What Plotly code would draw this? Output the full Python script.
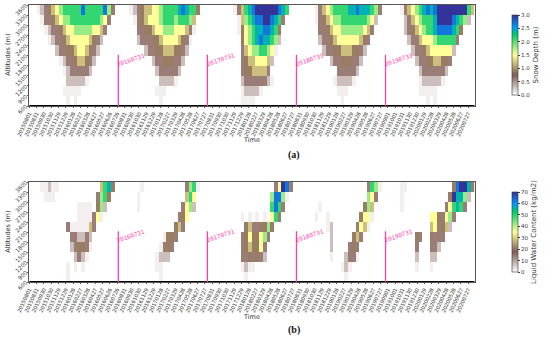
import plotly.graph_objects as go

# ---------------- data ----------------
# altitude bands (centres, m), listed top -> bottom
ALT_BANDS = [3450, 3150, 2850, 2550, 2250, 1950, 1650, 1350, 1050, 750]
ALT_TICKS = [600, 900, 1200, 1500, 1800, 2100, 2400, 2700, 3000, 3300, 3600]

# each string: 24 half-month columns of one hydrological year (Aug -> Jul)
# levels: 0 none, '.' trace, 1..9, a = max of colour scale (tenths of the scale)
SNOW_2015_16 = ["00.1 2345 6777 7797 7777 9630", "000. 2234 5667 7777 7776 5200",
                "0000 .122 3455 6666 6554 2000", "0000 0.12 2345 5555 4321 0000",
                "0000 0001 2233 4554 3210 0000", "0000 0000 .122 3443 2100 0000",
                "0000 0000 0.12 2222 1000 0000", "0000 0000 0011 111. 0000 0000",
                "0000 0000 0... ..00 0000 0000", "0000 0000 00.0 .000 0000 0000"]
SNOW_2016_17 = ["000. 1234 4556 7777 8987 7300", "0000 .234 5556 7776 7776 4000",
                "0000 0223 3455 6665 5542 .000", "0000 0122 2334 5555 432. 0000",
                "0000 0001 2233 4443 3210 0000", "0000 0000 0122 3332 2100 0000",
                "0000 0000 0012 2222 1000 0000", "0000 0000 0001 111. 0000 0000",
                "0000 0000 00.. .000 0000 0000", "0000 0000 000. 0000 0000 0000"]
SNOW_2017_18 = ["0000 000. 2478 9aaa aaa9 8700", "0000 0000 .467 899a a987 2000",
                "0000 0000 .356 7889 9873 0000", "0000 0000 0356 7898 8761 0000",
                "0000 0000 0245 6677 65.0 0000", "0000 0000 0234 4555 4100 0000",
                "0000 0000 0233 4444 2000 0000", "0000 0000 0122 2222 1.00 0000",
                "0000 0000 0.11 11.0 0000 0000", "0000 0000 0... .000 0000 0000"]
SNOW_2018_19 = ["0000 0.24 5677 7788 9888 7620", "0000 0.23 4566 7777 7776 5100",
                "0000 0022 3455 6666 6654 2000", "0000 0012 2345 5555 5432 0000",
                "0000 0001 2233 4443 3210 0000", "0000 0000 0122 3332 2100 0000",
                "0000 0000 0002 2222 1000 0000", "0000 0000 00.1 111. 0000 0000",
                "0000 0000 000. ..00 0000 0000", "0000 0000 0000 .000 0000 0000"]
SNOW_2019_20 = ["0000 .245 6789 89aa aaaa aa74", "0000 0124 5677 78aa aa98 7610",
                "0000 0123 4567 7899 9987 3000", "0000 0012 2455 5677 7772 0000",
                "0000 0001 2234 5555 5510 0000", "0000 0000 1223 3443 3200 0000",
                "0000 0000 0122 2222 1000 0000", "0000 0000 0.11 111. 0000 0000",
                "0000 0000 0... ..00 0000 0000", "0000 0000 000. 0.00 0000 0000"]

LWC_2015_16 = ["000. .1.. 0000 0000 0004 7830", "0000 ...0 0000 0000 0026 7300",
               "0000 0000 0000 0... .036 1000", "0000 0000 0000 0... .25. 0000",
               "0000 0000 002. .... 4200 0000", "0000 0000 0002 2112 1000 0000",
               "0000 0000 0001 2332 .000 0000", "0000 0000 0000 121. 0000 0000",
               "0000 0000 00.0 .0.0 0000 0000", "0000 0000 00.0 0000 0000 0000"]
LWC_2016_17 = ["0000 00.0 0000 0000 0026 7.00", "0000 0.00 0000 0000 0047 5000",
               "0000 0.00 0000 0000 0256 1000", "0000 0000 0000 0000 2350 0000",
               "0000 0000 0000 0003 4200 0000", "0000 0000 0000 .332 0000 0000",
               "0000 0000 000. 2320 0000 0000", "0000 0000 00.1 1100 0000 0000",
               "0000 0000 00.. 0000 0000 0000", "0000 0000 000. 0000 0000 0000"]
LWC_2017_18 = ["0000 0000 0000 0000 0025 a920", "0000 0000 0000 0000 0699 6.00",
               "0000 0000 0000 0000 0797 2000", "0000 0000 0.0. 0.0. 0572 0000",
               "0000 0000 0034 2233 6300 0000", "0000 0000 0235 3356 2000 0000",
               "0000 0000 0234 3352 0000 0000", "0000 0000 0223 2321 0000 0000",
               "0000 0000 0.1. .000 0000 0000", "0000 0000 00.0 0000 0000 0000"]
LWC_2018_19 = ["0000 0000 0000 0000 0002 76.0", "0000 0000 0000 0000 0006 5200",
               "0000 00.0 0000 0000 0036 4000", "0000 0.00 .000 0000 0355 .000",
               "0000 0000 .100 0000 254. 0000", "0000 0000 0100 0003 4200 0000",
               "0000 0000 0100 0023 2000 0000", "0000 0000 0.00 0122 .000 0000",
               "0000 0000 0000 .1.0 0000 0000", "0000 0000 0000 0.00 0000 0000"]
LWC_2019_20 = ["0000 ..00 0000 0000 0039 aa83", "0000 .000 0000 0000 03a8 8610",
               "0000 .000 0000 0000 2578 7200", "0000 0000 0000 5532 5620 0000",
               "0000 0000 0000 4523 4100 0000", "0000 0000 3200 3222 0000 0000",
               "0000 0000 2000 2210 0000 0000", "0000 0000 1000 1100 0000 0000",
               "0000 0000 .000 .000 0000 0000", "0000 0000 0000 0000 0000 0000"]

SNOW_MAX = 3.0
LWC_MAX = 70
YEAR_SPLITS = ["20160731", "20170731", "20180731", "20190731"]

TICK_LABELS = [
    "20150801", "20150831", "20150930", "20151030", "20151129", "20151229", "20160128",
    "20160227", "20160328", "20160427", "20160527", "20160626", "20160726",
    "20160831", "20160930", "20161030", "20161129", "20161229", "20170128", "20170227",
    "20170329", "20170428", "20170528", "20170627", "20170727",
    "20170831", "20170930", "20171030", "20171129", "20171229", "20180128", "20180227",
    "20180329", "20180428", "20180528", "20180627", "20180727",
    "20180831", "20180930", "20181030", "20181129", "20181229", "20190128", "20190227",
    "20190329", "20190428", "20190528", "20190627", "20190727",
    "20190901", "20191001", "20191031", "20191130", "20191230", "20200129", "20200228",
    "20200329", "20200428", "20200528", "20200627", "20200727"]

# ---------------- helpers ----------------
LEVEL = {'0': 0, '.': 0.25, 'a': 10}
LEVEL.update({str(i): i for i in range(1, 10)})


def decode(years, vmax):
    z = []
    for r in range(len(ALT_BANDS)):
        s = "".join(y[r].replace(" ", "") for y in years)
        z.append([LEVEL[c] / 10 * vmax for c in s])
    return z[::-1]  # bottom -> top


YEAR_LEN = 365.2
NCOL = 24
XMAX = YEAR_LEN * 5
snow_z = decode([SNOW_2015_16, SNOW_2016_17, SNOW_2017_18, SNOW_2018_19, SNOW_2019_20], SNOW_MAX)
lwc_z = decode([LWC_2015_16, LWC_2016_17, LWC_2017_18, LWC_2018_19, LWC_2019_20], LWC_MAX)
y_bottom_up = ALT_BANDS[::-1]

TERRAIN_R = [[0.0, "rgb(255,255,255)"], [0.25, "rgb(128,92,84)"], [0.5, "rgb(255,255,153)"],
             [0.75, "rgb(0,204,102)"], [0.85, "rgb(0,153,255)"], [1.0, "rgb(51,51,153)"]]

W, H = 550, 338
FONT = "DejaVu Sans"
PINK = "#ff3fa6"


def px_x(p):
    return p / W


def px_y(p):
    return 1 - p / H


fig = go.Figure()
dx = YEAR_LEN / NCOL

fig.add_trace(go.Heatmap(
    z=snow_z, x0=dx / 2, dx=dx, y=y_bottom_up, zmin=0, zmax=SNOW_MAX,
    colorscale=TERRAIN_R, zsmooth=False, xaxis="x", yaxis="y", hoverinfo="skip",
    colorbar=dict(x=px_x(515), xanchor="left", y=px_y(55), yanchor="middle",
                  len=100 / H, thickness=6, outlinewidth=0.6, outlinecolor="#333",
                  tickvals=[0, 0.5, 1, 1.5, 2, 2.5, 3], tickformat=".1f",
                  ticks="outside", ticklen=2, tickwidth=0.6, tickcolor="#444",
                  tickfont=dict(size=5.5, family=FONT, color="#333"),
                  title=dict(text="Snow Depth (m)", side="right",
                             font=dict(size=7, family=FONT, color="#333")))))

fig.add_trace(go.Heatmap(
    z=lwc_z, x0=dx / 2, dx=dx, y=y_bottom_up, zmin=0, zmax=LWC_MAX,
    colorscale=TERRAIN_R, zsmooth=False, xaxis="x2", yaxis="y2", hoverinfo="skip",
    colorbar=dict(x=px_x(515), xanchor="left", y=px_y(232), yanchor="middle",
                  len=100 / H, thickness=6, outlinewidth=0.6, outlinecolor="#333",
                  tickvals=[0, 10, 20, 30, 40, 50, 60, 70],
                  ticks="outside", ticklen=2, tickwidth=0.6, tickcolor="#444",
                  tickfont=dict(size=5.5, family=FONT, color="#333"),
                  title=dict(text="Liquid Water Content (kg/m2)", side="right",
                             font=dict(size=7, family=FONT, color="#333")))))

tickvals = [30 * i for i in range(len(TICK_LABELS))]
xcommon = dict(range=[0, XMAX], tickvals=tickvals, ticktext=TICK_LABELS, tickangle=-65,
               tickfont=dict(size=5.2, family=FONT, color="#333"), ticks="outside",
               ticklen=1.5, tickwidth=0.5, tickcolor="#555",
               showline=True, mirror=True, linecolor="#555", linewidth=0.8,
               showgrid=False, zeroline=False, automargin=False)
ycommon = dict(range=[600, 3600], tickvals=ALT_TICKS, tickangle=-45,
               tickfont=dict(size=5.5, family=FONT, color="#333"), ticks="outside",
               ticklen=1.5, tickwidth=0.5, tickcolor="#555",
               showline=True, mirror=True, linecolor="#555", linewidth=0.8,
               showgrid=False, zeroline=False, automargin=False)

fig.update_layout(
    width=W, height=H, margin=dict(l=0, r=0, t=0, b=0),
    paper_bgcolor="white", plot_bgcolor="white", showlegend=False,
    xaxis=dict(domain=[px_x(30), px_x(487)], anchor="y", **xcommon),
    yaxis=dict(domain=[px_y(106), px_y(5)], anchor="x", **ycommon),
    xaxis2=dict(domain=[px_x(30), px_x(487)], anchor="y2", **xcommon),
    yaxis2=dict(domain=[px_y(282), px_y(182)], anchor="x2", **ycommon),
)

shapes = []
annotations = []
for xa, ya in (("x", "y"), ("x2", "y2")):
    shapes.append(dict(type="line", xref=xa, yref=ya, x0=0, x1=XMAX, y0=600, y1=600,
                       line=dict(color="black", width=2.2)))
    for i, lab in enumerate(YEAR_SPLITS):
        xv = YEAR_LEN * (i + 1)
        shapes.append(dict(type="line", xref=xa, yref=ya, x0=xv, x1=xv, y0=600, y1=2120,
                           line=dict(color=PINK, width=1.3)))
        annotations.append(dict(xref=xa, yref=ya, x=xv + 52, y=1990, text=lab,
                                showarrow=False, textangle=-19,
                                font=dict(size=6, family="DejaVu Sans Mono", color=PINK),
                                xanchor="center", yanchor="middle"))

for ycen, title_y, cap_y, cap in ((55, 140, 155, "(a)"), (232, 317, 330, "(b)")):
    annotations.append(dict(xref="paper", yref="paper", x=px_x(8), y=px_y(ycen),
                            text="Altitudes (m)", textangle=-90, showarrow=False,
                            font=dict(size=6.5, family=FONT, color="#333"),
                            xanchor="center", yanchor="middle"))
    annotations.append(dict(xref="paper", yref="paper", x=px_x(258), y=px_y(title_y),
                            text="Time", showarrow=False,
                            font=dict(size=6.5, family=FONT, color="#333"),
                            xanchor="center", yanchor="middle"))
    annotations.append(dict(xref="paper", yref="paper", x=px_x(302), y=px_y(cap_y),
                            text="<b>" + cap + "</b>", showarrow=False,
                            font=dict(size=10, family="Liberation Serif", color="#111"),
                            xanchor="center", yanchor="middle"))

fig.update_layout(shapes=shapes, annotations=annotations)
fig.write_html("out.html", config={"displayModeBar": False},
               post_script="document.body.style.margin='0';document.body.style.padding='0';")
